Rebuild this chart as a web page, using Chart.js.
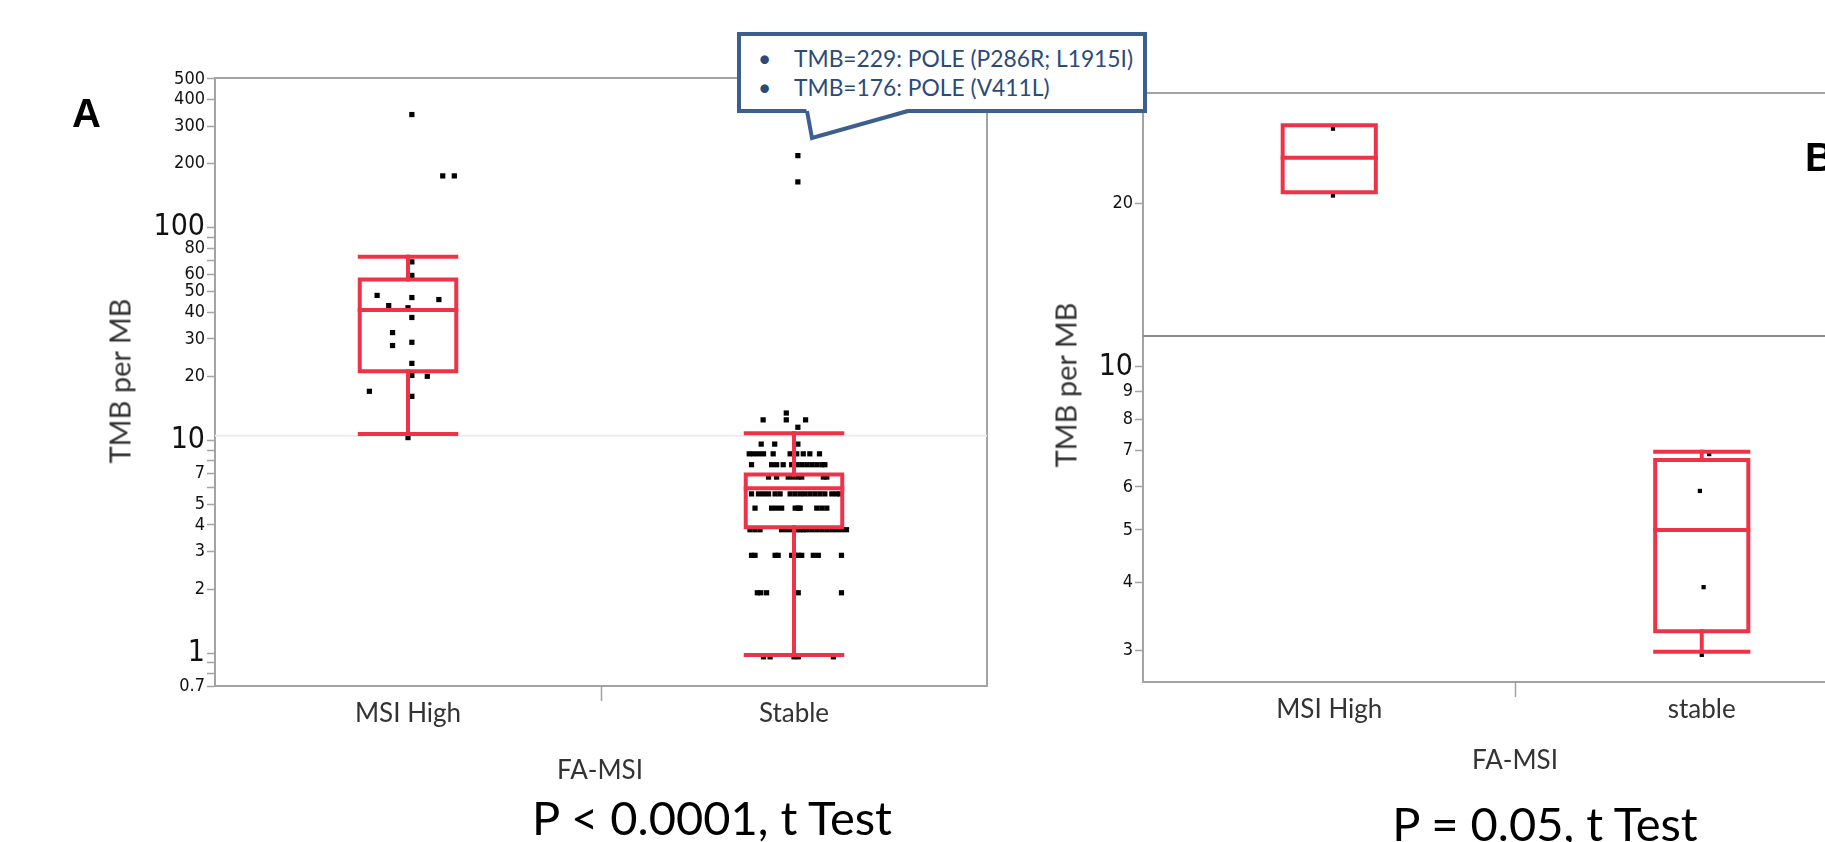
<!DOCTYPE html>
<html>
<head>
<meta charset="utf-8">
<script src="https://cdn.jsdelivr.net/npm/chart.js@4"></script>
<style>
  html, body { margin: 0; padding: 0; background: #fff; width: 1825px; height: 842px; overflow: hidden; position: relative; }
  canvas { position: absolute; top: 0; }
  .t { position: absolute; white-space: nowrap; line-height: 1; font-family: Lato, sans-serif; color: #333; }
  .c { transform: translateX(-50%); }
  .rot { transform: translate(-50%, -50%) rotate(-90deg); }
  .big { font-family: "Liberation Sans", Arial, sans-serif; font-weight: bold; color: #000; font-size: 40px; }
  .pval { font-size: 47px; color: #000; }
  #callout { position: absolute; left: 737px; top: 32px; width: 410px; height: 81px; box-sizing: border-box;
             border: 4px solid #3d5f8e; background: #fff; padding-top: 8px; z-index: 5;
             font-family: Lato, sans-serif; font-size: 22.8px; color: #2c4a78; }
  #callout div { position: relative; height: 29px; line-height: 29px; padding-left: 53px; white-space: nowrap; }
  #callout span { position: absolute; left: 17px; }
  #tail { position: absolute; left: 0; top: 0; z-index: 6; }
</style>
</head>
<body>
<canvas id="chartA" width="1000" height="842" style="left:0"></canvas>
<canvas id="chartB" width="1000" height="842" style="left:1000px"></canvas>

<div class="t big" style="left:72px; top:93px">A</div>
<div class="t big" style="left:1805px; top:137px">B</div>

<div class="t rot" style="left:119px; top:381px; font-size:29px">TMB per MB</div>
<div class="t rot" style="left:1065px; top:385px; font-size:29px">TMB per MB</div>

<div class="t c" style="left:600px; top:756px; font-size:26px">FA-MSI</div>
<div class="t c" style="left:1515px; top:746px; font-size:26px">FA-MSI</div>

<div class="t c pval" style="left:712px; top:794px">P &lt; 0.0001, t Test</div>
<div class="t c pval" style="left:1545px; top:800px">P = 0.05, t Test</div>

<div id="callout">
  <div><span>•</span>TMB=229: POLE (P286R; L1915I)</div>
  <div><span>•</span>TMB=176: POLE (V411L)</div>
</div>
<svg id="tail" width="1825" height="842">
  <polygon points="806,108 812,138 912,108" fill="#fff" stroke="none"/>
  <polyline points="807,111 812,138 908,111" fill="none" stroke="#3d5f8e" stroke-width="4" stroke-linejoin="miter"/>
</svg>

<script>
const categoriesA = ['MSI High', 'Stable'];
const categoriesB = ['MSI High', 'stable'];

// Panel A - MSI High points (value, horizontal jitter in category units)
const msiHighA = [340, 175, 175, 69, 59.6, 48, 46.9, 45.9, 43, 42, 37.8, 32.1, 28.9, 27.9, 23, 20.2, 20, 17, 16.1, 10.3];
const msiHighAJit = [0.01, 0.09, 0.12, 0.01, 0.01, -0.08, 0.01, 0.08, -0.05, 0, 0.01, -0.04, 0.01, -0.04, 0.01, 0.01, 0.05, -0.1, 0.01, 0];

// Panel A - Stable points, one row per TMB value
const stableARows = [13.44, 12.48, 11.52, 9.6, 8.64, 7.68, 6.72, 5.6, 4.8, 3.8, 2.88, 1.92, 0.96];
const stableARowJit = [
  [-0.02],
  [-0.08, -0.02, 0.03],
  [0.01],
  [-0.085, -0.05, 0.01],
  [-0.116, -0.105, -0.092, -0.079, -0.054, -0.01, 0.007, 0.024, 0.041, 0.066],
  [-0.11, -0.058, -0.045, -0.028, -0.006, 0.007, 0.02, 0.033, 0.046, 0.059, 0.072, 0.08],
  [-0.066, -0.045, -0.015, -0.002, 0.011, 0.02, 0.076, 0.085],
  [-0.11, -0.092, -0.079, -0.066, -0.049, -0.036, -0.01, 0.003, 0.016, 0.028, 0.041, 0.054, 0.067, 0.08, 0.098, 0.11, 0.119],
  [-0.101, -0.058, -0.045, -0.032, 0.003, 0.011, 0.016, 0.059, 0.072, 0.085],
  [-0.114, -0.101, -0.088, -0.032, -0.019, -0.006, 0.007, 0.016, 0.024, 0.033, 0.046, 0.059, 0.072, 0.085, 0.098, 0.11, 0.123, 0.136],
  [-0.11, -0.101, -0.049, -0.041, -0.006, 0.003, 0.011, 0.02, 0.05, 0.063, 0.123],
  [-0.095, -0.086, -0.071, 0.011, 0.123],
  [-0.079, -0.062, 0, 0.011, 0.102]
];
const poleA = [218, 164];
const poleAJit = [0.01, 0.01];

// Panel A box plot stats [MSI High, Stable]
const q1A = [21.1, 3.9];
const medA = [41, 5.95];
const q3A = [57, 6.9];
const loA = [10.7, 0.98];
const hiA = [73, 10.8];
const refLineA = 10.5;

// Panel B points
const msiHighB = [27.5, 20.7];
const msiHighBJit = [0.01, 0.01];
const stableB = [6.9, 5.9, 3.92, 2.94];
const stableBJit = [0.02, -0.005, 0.005, 0];

// Panel B box plot stats
const q1B = [21.0, 3.25];
const medB = [24.3, 5.0];
const q3B = [27.9, 6.73];
const loB = [null, 2.98];
const hiB = [null, 6.97];
const refLineB = 11.4;

// y axis ticks
const ticksA = [0.7, 0.8, 0.9, 1, 2, 3, 4, 5, 6, 7, 8, 9, 10, 20, 30, 40, 50, 60, 70, 80, 90, 100, 200, 300, 400, 500];
const labelsA = [0.7, 1, 2, 3, 4, 5, 7, 10, 20, 30, 40, 50, 60, 80, 100, 200, 300, 400, 500];
const bigA = [1, 10, 100];
const ticksB = [3, 4, 5, 6, 7, 8, 9, 10, 20, 30];
const bigB = [10];

const RED = '#ee3349';
const AXIS = '#a3a3a3';
const NARROW = '"Liberation Sans Narrow", "DejaVu Sans Condensed", "Arial Narrow", sans-serif';
const BW = 0.125; // half width of box

function seg(pts, color, width) {
  return { data: pts, showLine: true, borderColor: color, borderWidth: width, pointRadius: 0,
           fill: false, order: 0, borderCapStyle: 'square', borderJoinStyle: 'miter' };
}

function boxSets(q1, med, q3, lo, hi, lw) {
  const sets = [];
  q1.forEach((v, i) => {
    const c = i + 1;
    sets.push(seg([{x: c - BW, y: q1[i]}, {x: c + BW, y: q1[i]}, {x: c + BW, y: q3[i]}, {x: c - BW, y: q3[i]}, {x: c - BW, y: q1[i]}], RED, lw));
    sets.push(seg([{x: c - BW, y: med[i]}, {x: c + BW, y: med[i]}], RED, lw));
    if (hi[i] != null) {
      sets.push(seg([{x: c, y: q3[i]}, {x: c, y: hi[i]}], RED, lw));
      sets.push(seg([{x: c - BW, y: hi[i]}, {x: c + BW, y: hi[i]}], RED, lw));
    }
    if (lo[i] != null) {
      sets.push(seg([{x: c, y: q1[i]}, {x: c, y: lo[i]}], RED, lw));
      sets.push(seg([{x: c - BW, y: lo[i]}, {x: c + BW, y: lo[i]}], RED, lw));
    }
  });
  return sets;
}

function pointSet(vals, jit, c, r) {
  return { data: vals.map((v, i) => ({x: c + jit[i], y: v})), showLine: false, pointStyle: 'rect',
           pointRadius: r, backgroundColor: '#000', borderColor: '#000', borderWidth: 0, order: 1 };
}

// plot frame
const frame = {
  id: 'frame',
  beforeDatasetsDraw(chart) {
    const {ctx, chartArea: a} = chart;
    ctx.save();
    ctx.strokeStyle = AXIS;
    ctx.lineWidth = 2;
    ctx.strokeRect(a.left, a.top, a.right - a.left, a.bottom - a.top);
    ctx.restore();
  }
};

function makeChart(id, datasets, cats, yMin, yMax, yTicks, yLabels, yBig, yWidth, pad) {
  return new Chart(document.getElementById(id), {
    type: 'scatter',
    data: { datasets },
    plugins: [frame],
    options: {
      responsive: false,
      animation: false,
      layout: { padding: pad },
      plugins: { legend: { display: false }, tooltip: { enabled: false } },
      scales: {
        x: {
          type: 'linear', min: 0.5, max: 2.5,
          afterBuildTicks: s => { s.ticks = [1, 1.5, 2].map(v => ({ value: v })); },
          afterFit: s => { s.height = 60; },
          ticks: {
            autoSkip: false, maxRotation: 0, padding: -3, color: '#333',
            font: { family: 'Lato', size: 26 },
            callback: v => v === 1 ? cats[0] : v === 2 ? cats[1] : ''
          },
          grid: { drawOnChartArea: false, tickLength: 15, tickWidth: 1.5,
                  tickColor: c => c.tick && c.tick.value === 1.5 ? AXIS : 'rgba(0,0,0,0)' },
          border: { color: AXIS, width: 2 }
        },
        y: {
          type: 'logarithmic', min: yMin, max: yMax,
          afterBuildTicks: s => { s.ticks = yTicks.map(v => ({ value: v })); },
          afterFit: s => { s.width = yWidth; },
          ticks: {
            autoSkip: false, padding: 2, color: '#111',
            callback: v => yLabels.includes(v) ? String(v) : '',
            font: c => ({ family: NARROW, size: c.tick && yBig.includes(c.tick.value) ? 30 : 18 })
          },
          grid: { drawOnChartArea: false, tickLength: 8, tickWidth: 1.5, tickColor: AXIS },
          border: { color: AXIS, width: 2 }
        }
      }
    }
  });
}

// Panel A
const dsA = [
  seg([{x: 0.5, y: refLineA}, {x: 2.5, y: refLineA}], '#ececec', 2),
  ...boxSets(q1A, medA, q3A, loA, hiA, 4),
  pointSet(msiHighA, msiHighAJit, 1, 3.7),
  pointSet(poleA, poleAJit, 2, 3.7)
];
stableARows.forEach((v, r) => {
  dsA.push(pointSet(stableARowJit[r].map(() => v), stableARowJit[r], 2, 3.7));
});
dsA[0].order = 2;
makeChart('chartA', dsA, categoriesA, 0.7, 505, ticksA, labelsA, bigA, 115,
          { left: 100, top: 78, right: 13, bottom: 96 });

// Panel B
const dsB = [
  seg([{x: 0.5, y: refLineB}, {x: 2.5, y: refLineB}], '#8c8c8c', 2),
  ...boxSets(q1B, medB, q3B, loB, hiB, 4),
  pointSet(msiHighB, msiHighBJit, 1, 3),
  pointSet(stableB, stableBJit, 2, 3)
];
dsB[0].order = 2;
makeChart('chartB', dsB, categoriesB, 2.62, 32, ticksB, ticksB, bigB, 103,
          { left: 40, top: 93, right: 112, bottom: 100 });
</script>
</body>
</html>
